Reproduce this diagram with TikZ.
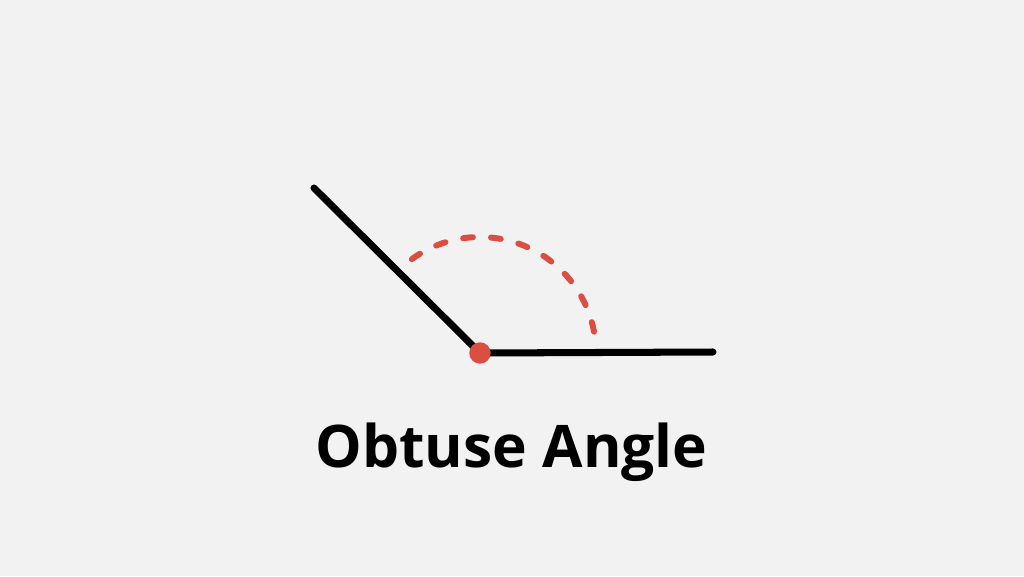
\documentclass[tikz,border=0pt]{standalone}
\usepackage{fontspec}
\setmainfont{Open Sans}
\usepackage{tikz}
\definecolor{fond}{HTML}{F2F2F2}
\definecolor{rouge}{HTML}{DB4E42}

\begin{document}
\begin{tikzpicture}[scale=1,
	cote/.style={black,line width=2pt,line cap=round},
	arc angle/.style={rouge,line width=1.7pt,line cap=round,dash pattern=on 2.8pt off 5.16pt}]
	\fill [fond] (0,0) rectangle (10.24,5.76);
	\useasboundingbox (0,0) rectangle (10.24,5.76);

	%sommet et cotes
	\coordinate (O) at (4.80,2.23);
	\coordinate (B) at (7.13,2.24);
	\coordinate (A) at (3.14,3.88);
	\draw [cote] (O) -- (B);
	\draw [cote] (O) -- (A);

	%angle obtus
	\draw [arc angle] (O) ++(126:1.16) arc (126:10.5:1.16);
	\filldraw [rouge] (O) circle (0.1);
	%fin

	\node (titre) [anchor=base] at (5.115,1.09) {\fontsize{16.7pt}{20pt}\selectfont\bfseries Obtuse Angle};
\end{tikzpicture}
\end{document}
